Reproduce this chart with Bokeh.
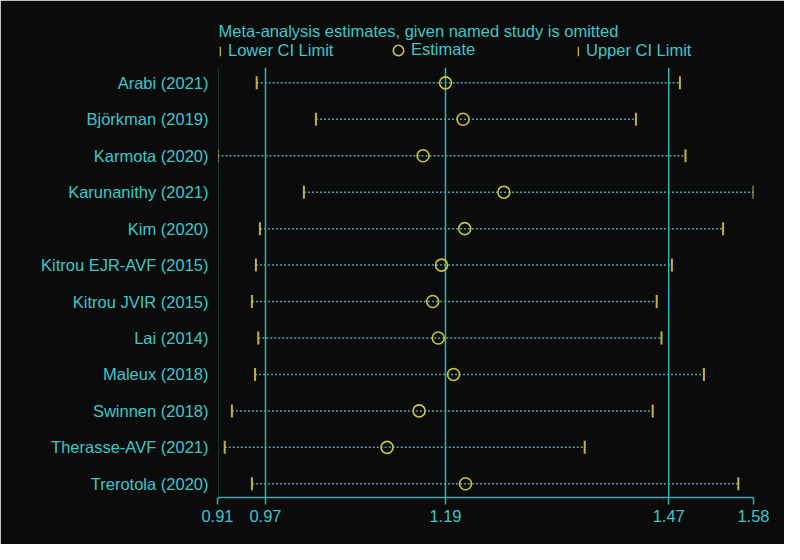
from bokeh.plotting import figure
from bokeh.models import Range1d, FixedTicker, Label, Legend, LegendItem, ColumnDataSource
from bokeh.embed import file_html
from bokeh.resources import INLINE

# ---- data ----
studies = ["Arabi (2021)", "Björkman (2019)", "Karmota (2020)", "Karunanithy (2021)", "Kim (2020)",
           "Kitrou EJR-AVF (2015)", "Kitrou JVIR (2015)", "Lai (2014)", "Maleux (2018)",
           "Swinnen (2018)", "Therasse-AVF (2021)", "Trerotola (2020)"]
lower = [0.959, 1.033, 0.910, 1.018, 0.963, 0.958, 0.953, 0.961, 0.957, 0.928, 0.919, 0.953]
estimate = [1.195, 1.217, 1.167, 1.268, 1.219, 1.190, 1.179, 1.186, 1.205, 1.162, 1.122, 1.220]
upper = [1.488, 1.433, 1.495, 1.580, 1.542, 1.478, 1.459, 1.465, 1.518, 1.454, 1.369, 1.561]
overall_lo = 0.970
overall_est = 1.195
overall_hi = 1.474
tick_labels = ["0.91", "0.97", "1.19", "1.47", "1.58"]
title_text = "Meta-analysis estimates, given named study is omitted"
legend_labels = ["Lower CI Limit", "Estimate", "Upper CI Limit"]

# ---- styles ----
BG = "#0b0b0b"
CYAN_TXT = "#3ec6c8"
CYAN_LINE = "#2fb2b4"
DOT = "#48a8ae"
YEL_EST = "#c9c53c"
YEL_CI = "#c9b03a"
FONT = "Liberation Sans"
FS = "16.5px"

rows = list(range(len(studies)))
src = ColumnDataSource(dict(y=rows, lower=lower, est=estimate, upper=upper))

xmin, xmax = min(lower), max(upper)
ticks = [xmin, overall_lo, overall_est, overall_hi, xmax]

# vertical extent of the study rows area (in row units, layout padding)
row_top = -0.412
row_bottom = len(studies) - 1 + 0.376
frame_top = -1.847

p = figure(width=784, height=544, output_backend="svg", toolbar_location=None, tools="",
           x_range=Range1d(xmin, xmax), y_range=Range1d(row_bottom, frame_top),
           min_border_left=217, min_border_right=31, min_border_top=15, min_border_bottom=47)
p.background_fill_color = BG
p.border_fill_color = BG
p.outline_line_color = BG
p.outline_line_width = 1
p.grid.visible = False

# x axis
xa = p.xaxis[0]
xa.ticker = FixedTicker(ticks=ticks)
xa.major_label_overrides = {t: lab for t, lab in zip(ticks, tick_labels)}
xa.axis_line_color = CYAN_LINE
xa.axis_line_width = 1.5
xa.major_tick_line_color = CYAN_LINE
xa.major_tick_line_width = 1.5
xa.major_tick_in = 0
xa.major_tick_out = 7
xa.minor_tick_line_color = None
xa.major_label_standoff = 5
xa.major_label_text_color = CYAN_TXT
xa.major_label_text_font = FONT
xa.major_label_text_font_size = FS

# y axis (labels only)
ya = p.yaxis[0]
ya.ticker = FixedTicker(ticks=rows)
ya.major_label_overrides = {i: s for i, s in zip(rows, studies)}
ya.axis_line_color = BG
ya.major_tick_line_color = None
ya.minor_tick_line_color = None
ya.major_tick_in = 0
ya.major_tick_out = 0
ya.major_label_standoff = 9
ya.major_label_text_color = CYAN_TXT
ya.major_label_text_font = FONT
ya.major_label_text_font_size = FS

# vertical lines: left edge and overall estimate with its CI
vx = [xmin, overall_lo, overall_est, overall_hi]
p.segment(x0=vx, y0=[row_top] * len(vx), x1=vx, y1=[row_bottom] * len(vx),
          line_color=CYAN_LINE, line_width=1.5)

# dotted CI lines
p.segment(x0="lower", y0="y", x1="upper", y1="y", source=src,
          line_color=DOT, line_width=1.5, line_dash="2 2")

r_lo = p.rect(x="lower", y="y", width=2, height=13, width_units="screen", height_units="screen",
              source=src, fill_color=YEL_CI, line_color=None)
r_hi = p.rect(x="upper", y="y", width=2, height=13, width_units="screen", height_units="screen",
              source=src, fill_color=YEL_CI, line_color=None)
r_est = p.scatter(x="est", y="y", source=src, marker="circle", size=12,
                  fill_color=None, line_color=YEL_EST, line_width=1.6)

# title
p.add_layout(Label(x=1, y=466.7, x_units="screen", y_units="screen", text=title_text,
                   text_baseline="middle", text_align="left", text_color=CYAN_TXT,
                   text_font=FONT, text_font_size=FS))


def make_legend(label, renderer, loc, gw, gh, standoff):
    lg = Legend(items=[LegendItem(label=label, renderers=[renderer])], location=loc,
                glyph_width=gw, glyph_height=gh, label_height=gh, label_standoff=standoff,
                padding=0, margin=0, spacing=0, border_line_color=None,
                background_fill_alpha=0, label_text_color=CYAN_TXT,
                label_text_font=FONT, label_text_font_size=FS)
    p.add_layout(lg)
    return lg


make_legend(legend_labels[0], r_lo, (2, 437), 2, 12, 7)
make_legend(legend_labels[1], r_est, (168, 434.5), 26, 26, -3)
make_legend(legend_labels[2], r_hi, (360, 437), 2, 12, 7)

open("out.html", "w").write(file_html(p, INLINE))
